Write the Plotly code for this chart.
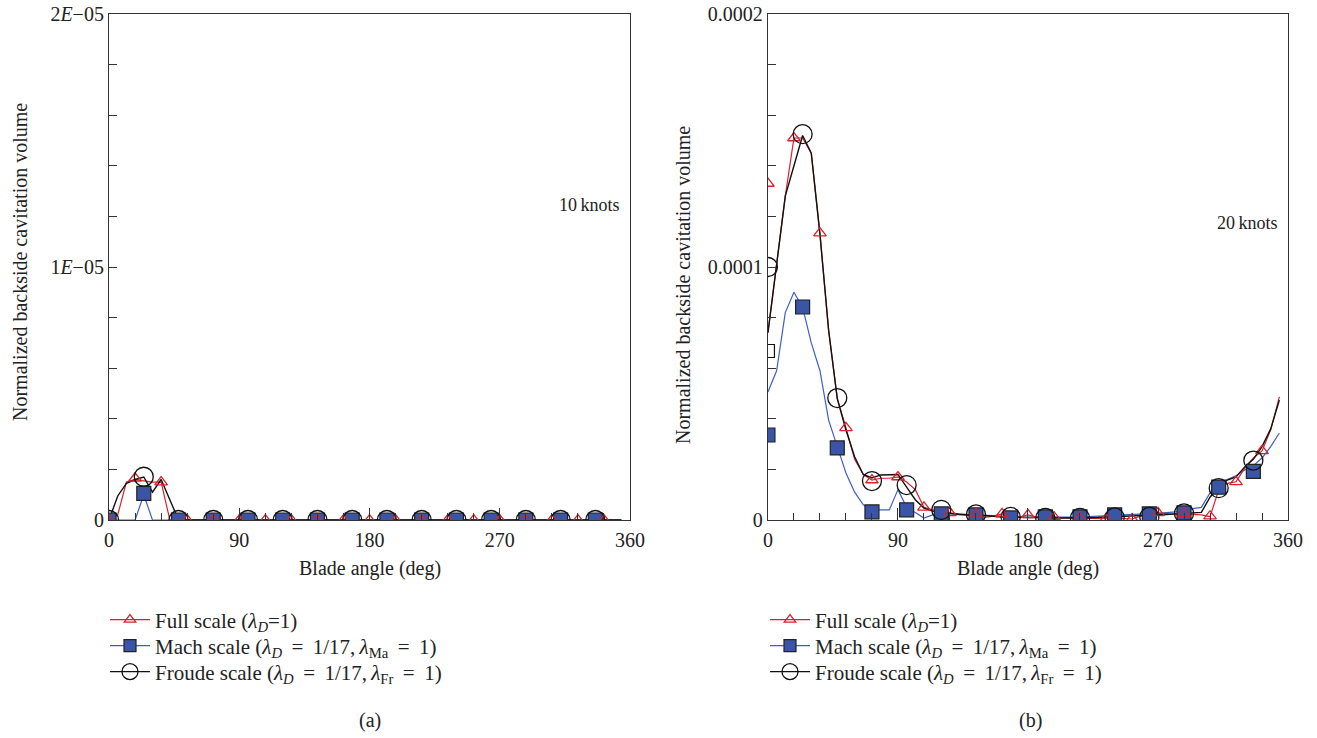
import plotly.graph_objects as go

FONT = "Liberation Serif"
SCALE = 1e-6

# ---------------- data (values in units of 1e-6) ----------------
line_angles = [0, 6, 12, 18, 24, 30, 36, 42, 48, 54, 60, 66, 72, 78, 84, 90, 96, 102, 108, 114,
               120, 126, 132, 138, 144, 150, 156, 162, 168, 174, 180, 186, 192, 198, 204, 210,
               216, 222, 228, 234, 240, 246, 252, 258, 264, 270, 276, 282, 288, 294, 300, 306,
               312, 318, 324, 330, 336, 342, 348, 354]
tri_angles = [0, 18, 36, 54, 72, 90, 108, 126, 144, 162, 180, 198, 216, 234, 252, 270, 288, 306, 324, 342]
sq_angles = [0, 24, 48, 72, 96, 120, 144, 168, 192, 216, 240, 264, 288, 312, 336]

# (a) 10 knots
a_full_line = [0, 0.2, 1.5, 1.6, 1.55, 1.5, 1.5, 0, 0, 0, 0, 0, 0, 0, 0, 0, 0, 0, 0, 0,
               0, 0, 0, 0, 0, 0, 0, 0, 0, 0, 0, 0, 0, 0, 0, 0, 0, 0, 0, 0,
               0, 0, 0, 0, 0, 0, 0, 0, 0, 0, 0, 0, 0, 0, 0, 0, 0, 0, 0, 0]
a_mach_line = [0, 0, 0, 0, 1.0, 0, 0, 0, 0, 0, 0, 0, 0, 0, 0, 0, 0, 0, 0, 0,
               0, 0, 0, 0, 0, 0, 0, 0, 0, 0, 0, 0, 0, 0, 0, 0, 0, 0, 0, 0,
               0, 0, 0, 0, 0, 0, 0, 0, 0, 0, 0, 0, 0, 0, 0, 0, 0, 0, 0, 0]
a_froude_line = [0, 0.95, 1.45, 1.6, 1.7, 1.1, 1.6, 0.8, 0, 0, 0, 0, 0, 0, 0, 0, 0, 0, 0, 0,
                 0, 0, 0, 0, 0, 0, 0, 0, 0, 0, 0, 0, 0, 0, 0, 0, 0, 0, 0, 0,
                 0, 0, 0, 0, 0, 0, 0, 0, 0, 0, 0, 0, 0, 0, 0, 0, 0, 0, 0, 0]
a_full_pts = [0, 1.65, 1.5, 0, 0, 0, 0, 0, 0, 0, 0, 0, 0, 0, 0, 0, 0, 0, 0, 0]
a_mach_pts = [0, 1.05, 0, 0, 0, 0, 0, 0, 0, 0, 0, 0, 0, 0, 0]
a_froude_pts = [0, 1.71, 0, 0, 0, 0, 0, 0, 0, 0, 0, 0, 0, 0, 0]

# (b) 20 knots
b_full_line = [74, 101, 128, 151, 151, 145, 113, 75, 48, 36.4, 24, 18, 15.8, 16.5, 16.5, 17, 15, 12, 5, 4,
               3, 2.8, 2.4, 2, 2.2, 1, 1.5, 2.4, 1.6, 1.2, 2, 1.2, 1, 1.2, 0.8, 0.7,
               0.8, 0.6, 0.5, 0.5, 0.8, 0.6, 0.4, 1.5, 2.4, 2.8, 2.4, 2.2, 2.4, 2.2, 2, 1.3,
               11.9, 14.5, 15.1, 20.5, 24.5, 27.3, 35.6, 48.7]
b_mach_line = [50.6, 59, 82, 90, 84, 70, 59, 39.5, 29, 18.6, 11, 6, 4, 4, 4, 12, 5, 3, 0.8, 2,
               2.8, 2.5, 2.3, 2.2, 2.2, 2, 1.8, 1.5, 1, 1, 1, 1, 1.2, 1.2, 1.2, 1.2,
               1.2, 1.3, 1.5, 1.8, 2, 2.2, 2.3, 2.4, 2.5, 2.6, 2.8, 3.2, 4, 4.6, 5, 10.7,
               13.8, 16, 17.5, 19.8, 21.5, 24.5, 29, 34.4]
b_froude_line = [74, 101, 128, 140, 152, 145, 113, 75, 48, 35.6, 25, 18, 16.6, 17.8, 18, 18, 13, 8, 4.7, 3.5,
                 3, 2.5, 2.2, 2, 2, 1.8, 1.5, 1.2, 1.2, 1, 1, 1, 0.8, 0.8, 0.8, 0.8,
                 0.8, 0.8, 1, 1.2, 1.3, 1.4, 1.5, 1.6, 1.8, 2, 2.2, 2.4, 2.6, 2.8, 3, 9,
                 13, 15.8, 17, 21, 24, 29, 36, 47.4]
b_full_pts = [133, 151, 113.4, 36.4, 15.8, 17, 5, 2.8, 2.2, 2.4, 2, 1.2, 0.8, 0.5, 0.4, 2.8, 2.4, 1.5, 15.1, 27.3]
b_mach_pts = [33.6, 84.2, 28.5, 3.2, 4, 2.4, 2, 0.8, 1.2, 1.2, 2, 2.4, 2.8, 13, 19.2]
b_froude_pts = [100, 152.5, 48.2, 15.4, 13.8, 4, 2.2, 1.2, 0.8, 0.8, 1, 1.2, 2.6, 12.6, 23.5]
b_open_sq_angle = [0]
b_open_sq_val = [66.8]

series_names = [
    "Full scale (<i>λ<sub>D</sub></i>=1)",
    "Mach scale (<i>λ<sub>D</sub></i>\u00a0\u2009=\u00a0\u20091/17,\u2009<i>λ</i><sub>Ma</sub>\u00a0\u2009=\u00a0\u20091)",
    "Froude scale (<i>λ<sub>D</sub></i>\u00a0\u2009=\u00a0\u20091/17,\u2009<i>λ</i><sub>Fr</sub>\u00a0\u2009=\u00a0\u20091)",
]

RED = "#d6232c"
BLUE = "#3e5fc2"
SQFILL = "#3a55a6"
BLACK = "#111111"


def sc(v):
    return [x * SCALE for x in v]


fig = go.Figure()

# each legend entry gets its own legend box so rows can be spaced like the reference
panels = [
    ("x", "y", ["legend", "legend3", "legend4"], a_full_line, a_mach_line, a_froude_line, a_full_pts, a_mach_pts, a_froude_pts),
    ("x2", "y2", ["legend2", "legend5", "legend6"], b_full_line, b_mach_line, b_froude_line, b_full_pts, b_mach_pts, b_froude_pts),
]

tri_marker = dict(symbol="triangle-up-open", size=11, color=RED, line=dict(width=1.3, color=RED))
sq_marker = dict(symbol="square", size=14, color=SQFILL, line=dict(width=1.2, color="#222222"))
circ_marker = dict(symbol="circle-open", size=19, color=BLACK, line=dict(width=1.3, color=BLACK))

for xa, ya, lgs, fl, ml, frl, fp, mp, frp in panels:
    fig.add_trace(go.Scatter(x=line_angles, y=sc(ml), mode="lines", line=dict(color=BLUE, width=1.2),
                             xaxis=xa, yaxis=ya, showlegend=False, hoverinfo="skip"))
    fig.add_trace(go.Scatter(x=line_angles, y=sc(fl), mode="lines", line=dict(color=RED, width=1.2),
                             xaxis=xa, yaxis=ya, showlegend=False, hoverinfo="skip"))
    fig.add_trace(go.Scatter(x=line_angles, y=sc(frl), mode="lines", line=dict(color=BLACK, width=1.4),
                             xaxis=xa, yaxis=ya, showlegend=False, hoverinfo="skip"))
    fig.add_trace(go.Scatter(x=sq_angles, y=sc(mp), mode="markers", marker=sq_marker,
                             xaxis=xa, yaxis=ya, showlegend=False))
    fig.add_trace(go.Scatter(x=tri_angles, y=sc(fp), mode="markers", marker=tri_marker,
                             xaxis=xa, yaxis=ya, showlegend=False))
    fig.add_trace(go.Scatter(x=sq_angles, y=sc(frp), mode="markers", marker=circ_marker,
                             xaxis=xa, yaxis=ya, showlegend=False))
    # legend entries
    fig.add_trace(go.Scatter(x=[None], y=[None], mode="lines+markers", name=series_names[0],
                             line=dict(color=RED, width=1.2), marker=dict(tri_marker, size=10),
                             xaxis=xa, yaxis=ya, legend=lgs[0]))
    fig.add_trace(go.Scatter(x=[None], y=[None], mode="lines+markers", name=series_names[1],
                             line=dict(color=BLUE, width=1.2), marker=dict(sq_marker, size=12),
                             xaxis=xa, yaxis=ya, legend=lgs[1]))
    fig.add_trace(go.Scatter(x=[None], y=[None], mode="lines+markers", name=series_names[2],
                             line=dict(color=BLACK, width=1.3), marker=dict(circ_marker, size=16),
                             xaxis=xa, yaxis=ya, legend=lgs[2]))

fig.add_trace(go.Scatter(x=b_open_sq_angle, y=sc(b_open_sq_val), mode="markers",
                         marker=dict(symbol="square-open", size=13, color=BLACK, line=dict(width=1.2)),
                         xaxis="x2", yaxis="y2", showlegend=False))

tickfont = dict(family=FONT, size=20, color="#222222")
xcommon = dict(range=[0, 360], tickvals=[0, 90, 180, 270, 360], ticktext=["0", "90", "180", "270", "360"],
               ticks="inside", ticklen=12, tickwidth=1, tickcolor="#333333",
               minor=dict(dtick=18, tick0=0, ticks="inside", ticklen=7, tickwidth=1, tickcolor="#333333"),
               showline=True, linecolor="#333333", linewidth=1.3, mirror=True, showgrid=False,
               zeroline=False, tickfont=tickfont, ticklabelstandoff=2, automargin=False)
ycommon = dict(ticks="inside", ticklen=8, tickwidth=1, tickcolor="#333333",
               showline=True, linecolor="#333333", linewidth=1.3, mirror=True, showgrid=False,
               zeroline=False, tickfont=tickfont, automargin=False)

legfont = dict(family=FONT, size=21, color="#222222")


def leg(xpx, ypx):
    return dict(x=xpx / 1317, y=1 - ypx / 738, xanchor="left", yanchor="middle", font=legfont,
                bgcolor="rgba(0,0,0,0)", itemwidth=40, tracegroupgap=0, borderwidth=0)


fig.update_layout(
    width=1317, height=738,
    margin=dict(l=0, r=0, t=0, b=0, autoexpand=False),
    paper_bgcolor="white", plot_bgcolor="white",
    font=dict(family=FONT, size=20, color="#222222"),
    xaxis=dict(xcommon, domain=[0.0828, 0.4784], anchor="y"),
    yaxis=dict(ycommon, domain=[0.2954, 0.981], anchor="x", range=[0, 2e-5],
               tickvals=[0, 1e-5, 2e-5], ticktext=["0", "1<i>E</i>−05", "2<i>E</i>−05"],
               minor=dict(dtick=2e-6, tick0=0, ticks="inside", ticklen=8, tickwidth=1, tickcolor="#333333")),
    xaxis2=dict(xcommon, domain=[0.5831, 0.978], anchor="y2"),
    yaxis2=dict(ycommon, domain=[0.2954, 0.981], anchor="x2", range=[0, 2e-4],
                tickvals=[0, 1e-4, 2e-4], ticktext=["0", "0.0001", "0.0002"],
                minor=dict(dtick=2e-5, tick0=0, ticks="inside", ticklen=8, tickwidth=1, tickcolor="#333333")),
    legend=leg(105, 620),
    legend3=leg(105, 646),
    legend4=leg(105, 672),
    legend2=leg(765, 620),
    legend5=leg(765, 646),
    legend6=leg(765, 672),
    showlegend=True,
)

ann_font = dict(family=FONT, size=20, color="#222222")
knots_font = dict(family=FONT, size=18, color="#222222")


def ann(text, xpx, ypx, font=ann_font, angle=0):
    return dict(text=text, x=xpx / 1317, y=1 - ypx / 738, xref="paper", yref="paper", showarrow=False,
                xanchor="center", yanchor="middle", textangle=angle, font=font)


annotations = [
    ann("Blade angle (deg)", 370, 568),
    ann("Blade angle (deg)", 1028, 568),
    ann("Normalized backside cavitation volume", 20, 262, angle=-90),
    ann("Normalized backside cavitation volume", 683, 285, angle=-90),
    ann("10\u2009knots", 589, 205, font=knots_font),
    ann("20\u2009knots", 1247, 223, font=knots_font),
    ann("(a)", 370, 720),
    ann("(b)", 1030, 720),
]
fig.update_layout(annotations=annotations)

fig.write_html("out.html")
